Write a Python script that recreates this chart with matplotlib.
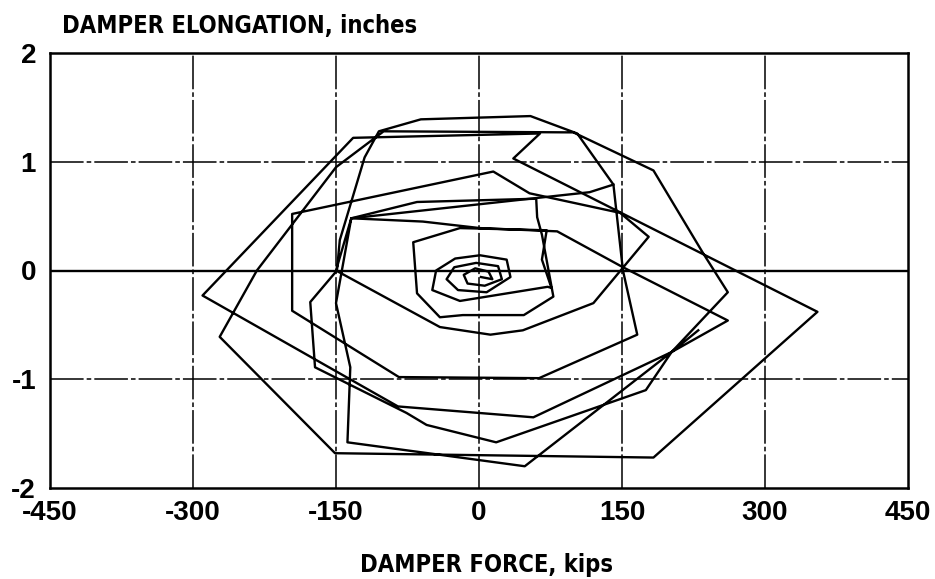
import matplotlib
matplotlib.use("Agg")
import matplotlib.pyplot as plt
from matplotlib import font_manager
import numpy as np

plt.rcParams["axes.unicode_minus"] = False

# damper force (kips) / elongation (in)
core_force = [2, 14, 10, -4, -16, -12, 6, 24, 20, -3, -26, -34, -22, 8,
              33, 29, 1, -25, -45, -49, -20, 72]
core_elong = [-0.06, -0.08, -0.01, 0.02, -0.04, -0.12, -0.14, -0.08, 0.04, 0.07, 0.03, -0.08, -0.18, -0.20,
              -0.06, 0.10, 0.14, 0.11, 0.00, -0.18, -0.28, -0.15]

mid_force = [76, 66, 71, -20, -69, -65, -41, -17, 47, 78,
             66, 61, 60, -65, -134, -150, -41, 12, 46, 120]
mid_elong = [-0.16, 0.10, 0.37, 0.39, 0.26, -0.21, -0.43, -0.41, -0.41, -0.24,
             0.33, 0.49, 0.66, 0.63, 0.48, 0.00, -0.52, -0.59, -0.55, -0.30]

big1_force = [178, 148, 53, 15, -196, -196, -84, 63, 166,
              151, 141, 103, 54, -61, -105, -120, -146, -149, -177, -172, -76, -55, 18, 175, 202, 261,
              151, 82, 1, -59, -134]
big1_elong = [0.31, 0.53, 0.71, 0.91, 0.52, -0.37, -0.98, -0.99, -0.59,
              0.00, 0.79, 1.26, 1.42, 1.39, 1.28, 1.04, 0.28, 0.00, -0.29, -0.89, -1.31, -1.42, -1.58, -1.10, -0.75, -0.46,
              0.03, 0.36, 0.39, 0.45, 0.48]

big2_force = [-150, -135, -138, 48, 202, 261, 235, 183, 99, -100, -150, -233, -272, -151, 183, 355,
              36, 64, -132, -290, -85, 57, 202, 230]
big2_elong = [-0.30, -0.89, -1.58, -1.80, -0.75, -0.20, 0.16, 0.92, 1.27, 1.28, 0.95, 0.00, -0.61, -1.68, -1.72, -0.38,
              1.03, 1.26, 1.22, -0.23, -1.25, -1.35, -0.75, -0.55]

# short stroke across the upper middle
extra_force = [-134, 116, 141]
extra_elong = [0.48, 0.72, 0.79]

force = np.concatenate([core_force, mid_force, big1_force, big2_force])
elong = np.concatenate([core_elong, mid_elong, big1_elong, big2_elong])

xticks = [-450, -300, -150, 0, 150, 300, 450]
yticks = [-2, -1, 0, 1, 2]

# axis titles in the original are a narrow bold face; use one if installed
narrow = None
for f in font_manager.fontManager.ttflist:
    if ("Narrow" in f.name or "Condensed" in f.name or f.stretch == "condensed") and f.weight in ("bold", 700):
        narrow = f
        break
if narrow is not None:
    title_kw = dict(fontproperties=font_manager.FontProperties(fname=narrow.fname, size=17))
else:
    title_kw = dict(fontfamily="Liberation Sans", fontweight="bold", fontsize=17)

fig = plt.figure(figsize=(9.35, 5.79), dpi=100)
ax = fig.add_axes([50/935, 1-488/579, 858/935, 435/579])

# grid
grid_ls = (0, (22, 2, 3, 2))
for x in [-300, -150, 0, 150, 300]:
    ax.axvline(x, color="black", lw=1.1, ls=grid_ls, zorder=1)
ax.axhline(1, color="black", lw=1.1, ls=grid_ls, zorder=1)
ax.axhline(-1, color="black", lw=1.1, ls=grid_ls, zorder=1)
ax.axhline(0, color="black", lw=1.7, zorder=1)

ax.plot(force, elong, color="black", lw=1.7, zorder=3)
ax.plot(extra_force, extra_elong, color="black", lw=1.7, zorder=3)

ax.set_xlim(-450, 450)
ax.set_ylim(-2, 2)
ax.set_xticks(xticks)
ax.set_yticks(yticks)
ax.tick_params(length=0)
ax.tick_params(axis="x", pad=9)
ax.tick_params(axis="y", pad=10)
for lab in ax.get_xticklabels() + ax.get_yticklabels():
    lab.set_fontfamily("Liberation Sans")
    lab.set_fontweight("bold")
    lab.set_fontsize(20)
for s in ax.spines.values():
    s.set_linewidth(1.8)

fig.text(62/935, 1-33/579, "DAMPER ELONGATION, inches", ha="left", va="baseline", **title_kw)
fig.text(486/935, 1-572/579, "DAMPER FORCE, kips", ha="center", va="baseline", **title_kw)

fig.savefig("out.png", dpi=100)
